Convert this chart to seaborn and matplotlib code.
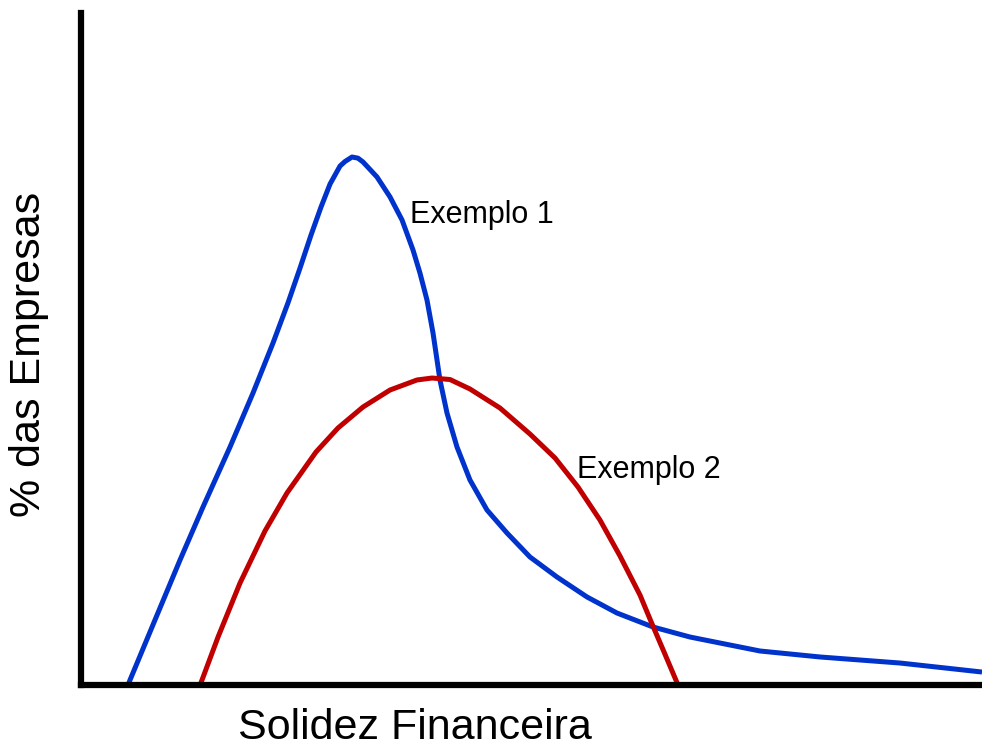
import matplotlib
matplotlib.use("Agg")
import matplotlib.pyplot as plt
import pandas as pd
import seaborn as sns

# Exemplo 1 (blue curve), x/y in 0..100 units
ex1_x = [5.22, 5.44, 8.21, 10.99, 13.54, 16.54, 19.09, 21.31, 22.97, 24.31, 25.53,
         26.64, 27.64, 28.75, 29.30, 30.08, 30.74, 31.30, 32.85, 34.30, 35.63,
         36.85, 37.62, 38.40, 39.07, 39.84, 40.62, 41.73, 43.17, 45.06, 47.28,
         49.83, 52.83, 56.16, 59.49, 63.49, 67.59, 72.03, 75.36, 82.02, 90.90, 100.0]
ex1_y = [0.0, 0.74, 9.67, 18.60, 26.49, 35.42, 43.45, 50.89, 56.85, 62.05, 66.96,
         71.13, 74.55, 77.23, 77.90, 78.57, 78.40, 77.83, 75.60, 72.62, 69.20,
         64.73, 61.31, 57.29, 52.38, 45.39, 40.48, 35.42, 30.51, 26.04, 22.62,
         19.05, 16.07, 13.10, 10.71, 8.63, 7.14, 5.95, 5.06, 4.17, 3.27, 1.93]

# Exemplo 2 (red curve)
ex2_x = [13.21, 13.43, 15.21, 17.65, 20.42, 22.86, 26.08, 28.52, 31.30, 34.30,
         37.29, 38.96, 40.95, 43.17, 46.50, 49.83, 52.61, 55.16, 57.60, 59.82,
         62.04, 63.38, 64.71, 66.26]
ex2_y = [0.0, 0.74, 7.14, 15.18, 22.92, 28.57, 34.67, 38.24, 41.37, 43.90,
         45.39, 45.68, 45.46, 44.05, 41.22, 37.35, 33.78, 29.46, 24.55, 19.20,
         13.39, 9.08, 4.91, 0.0]

labels = ["Exemplo 1", "Exemplo 2"]
colors = ["#0033cc", "#c00000"]

df1 = pd.DataFrame({"x": ex1_x, "y": ex1_y})
df2 = pd.DataFrame({"x": ex2_x, "y": ex2_y})

sns.set_style("white")
plt.rcParams["font.family"] = ["Liberation Sans", "DejaVu Sans"]
plt.rcParams["text.color"] = "black"
plt.rcParams["axes.labelcolor"] = "black"

fig = plt.figure(figsize=(9.82, 7.46), dpi=100)
ax = fig.add_axes([81 / 982, 61 / 746, 1 - 81 / 982, 672 / 746])

line_kw = dict(lw=3.6, sort=False, solid_joinstyle="round", solid_capstyle="butt")
sns.lineplot(data=df1, x="x", y="y", ax=ax, color=colors[0], **line_kw)
sns.lineplot(data=df2, x="x", y="y", ax=ax, color=colors[1], **line_kw)

ax.set_xlim(0, 100)
ax.set_ylim(0, 100)
ax.set_xticks([])
ax.set_yticks([])
for s in ["top", "right"]:
    ax.spines[s].set_visible(False)
for s in ["left", "bottom"]:
    ax.spines[s].set_linewidth(4.5)
    ax.spines[s].set_color("black")

ax.text(36.5, 70.0, labels[0], fontsize=22, ha="left", va="center")
ax.text(55.0, 32.0, labels[1], fontsize=22, ha="left", va="center")

ax.set_xlabel("Solidez Financeira", fontsize=31)
ax.set_ylabel("% das Empresas", fontsize=31)
ax.xaxis.set_label_coords(0.371, -0.034)
ax.yaxis.set_label_coords(-0.036, 0.492)

fig.savefig("out.png", dpi=100)
